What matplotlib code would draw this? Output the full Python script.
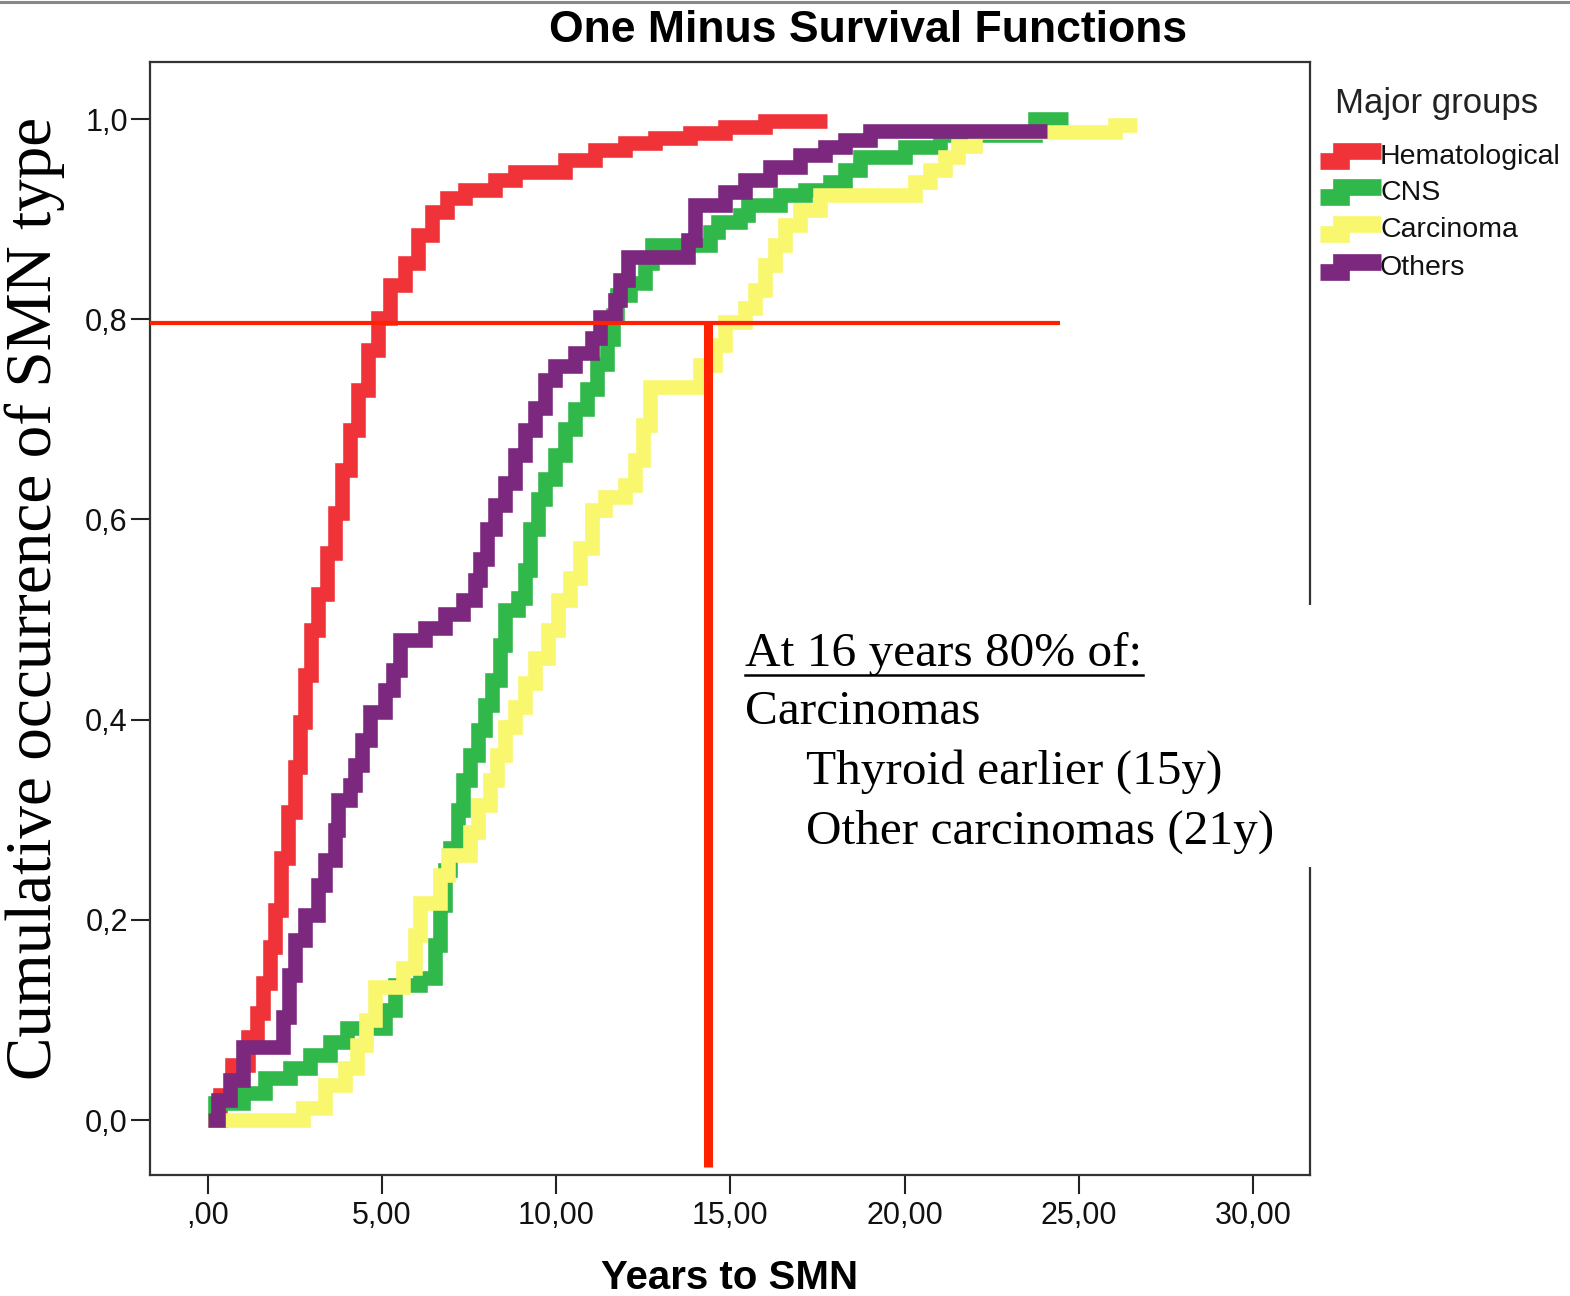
import matplotlib
matplotlib.use("Agg")
import matplotlib.pyplot as plt
from matplotlib.lines import Line2D
from matplotlib.patches import Rectangle

# Kaplan-Meier style cumulative curves (time in years, cumulative occurrence)
HEM_T = [0.0, 0.34, 0.69, 1.15, 1.41, 1.58, 1.78, 1.92, 2.10, 2.30, 2.50, 2.64, 2.79, 2.96,
         3.16, 3.42, 3.65, 3.85, 4.08, 4.31, 4.59, 4.88, 5.23, 5.66, 6.03, 6.43, 6.86, 7.38,
         8.24, 8.81, 10.25, 11.11, 11.97, 12.83, 13.84, 14.84, 15.99, 17.77]
HEM_Y = [0.0, 0.025, 0.055, 0.083, 0.107, 0.137, 0.173, 0.21, 0.262, 0.308, 0.353, 0.398, 0.445, 0.49,
         0.526, 0.566, 0.606, 0.649, 0.689, 0.729, 0.769, 0.801, 0.834, 0.856, 0.884, 0.907, 0.921, 0.929,
         0.939, 0.947, 0.959, 0.969, 0.976, 0.981, 0.986, 0.992, 0.998, 0.998]

CNS_T = [0.0, 0.20, 1.0, 1.64, 2.35, 2.93, 3.50, 3.99, 5.08, 5.37, 6.09, 6.52, 6.66, 6.80, 6.95,
         7.18, 7.32, 7.52, 7.75, 7.95, 8.15, 8.38, 8.53, 8.90, 9.10, 9.24, 9.47, 9.68, 9.96,
         10.25, 10.54, 10.88, 11.17, 11.46, 11.63, 11.74, 12.12, 12.55, 12.75, 14.41, 14.64,
         15.27, 15.50, 16.42, 17.14, 17.86, 18.29, 18.72, 20.01, 21.02, 23.74, 24.69]
CNS_Y = [0.0, 0.017, 0.027, 0.042, 0.052, 0.065, 0.078, 0.092, 0.11, 0.135, 0.142, 0.175, 0.215, 0.25, 0.272,
         0.31, 0.34, 0.365, 0.39, 0.415, 0.44, 0.475, 0.51, 0.522, 0.55, 0.59, 0.62, 0.64, 0.664,
         0.69, 0.71, 0.73, 0.755, 0.78, 0.804, 0.824, 0.836, 0.856, 0.874, 0.887, 0.897,
         0.904, 0.914, 0.924, 0.929, 0.937, 0.949, 0.962, 0.972, 0.984, 1.0, 1.0]

CAR_T = [0.0, 2.73, 3.36, 3.93, 4.28, 4.54, 4.79, 5.60, 5.94, 6.09, 6.66, 6.89, 7.52, 7.75, 8.10,
         8.30, 8.53, 8.81, 9.10, 9.39, 9.76, 10.05, 10.39, 10.68, 11.02, 11.40, 11.97, 12.26, 12.49,
         12.69, 14.13, 14.56, 14.84, 15.42, 15.70, 15.99, 16.28, 16.57, 17.0, 17.57, 20.30, 20.73,
         21.16, 21.53, 22.02, 26.04, 26.67]
CAR_Y = [0.0, 0.012, 0.035, 0.052, 0.075, 0.10, 0.133, 0.152, 0.185, 0.217, 0.245, 0.265, 0.288, 0.315, 0.34,
         0.365, 0.393, 0.413, 0.437, 0.462, 0.49, 0.52, 0.542, 0.571, 0.609, 0.622, 0.634, 0.659, 0.694,
         0.732, 0.754, 0.774, 0.797, 0.811, 0.829, 0.854, 0.874, 0.894, 0.909, 0.924, 0.937, 0.949,
         0.962, 0.973, 0.987, 0.994, 0.994]

OTH_T = [0.0, 0.29, 0.63, 1.0, 2.15, 2.33, 2.50, 2.78, 3.16, 3.36, 3.65, 3.73, 4.08, 4.22, 4.42, 4.65,
         5.08, 5.31, 5.51, 6.23, 6.80, 7.32, 7.67, 7.81, 8.01, 8.24, 8.53, 8.81, 9.10, 9.39, 9.68,
         9.96, 10.54, 11.02, 11.25, 11.69, 11.83, 12.06, 13.78, 13.98, 14.84, 15.42, 16.14, 17.0,
         17.71, 18.29, 19.01, 24.09]
OTH_Y = [0.0, 0.02, 0.04, 0.073, 0.103, 0.145, 0.18, 0.205, 0.235, 0.26, 0.29, 0.32, 0.335, 0.355, 0.38, 0.408,
         0.43, 0.45, 0.48, 0.492, 0.506, 0.52, 0.54, 0.56, 0.59, 0.614, 0.636, 0.664, 0.689, 0.711, 0.739,
         0.753, 0.766, 0.781, 0.802, 0.819, 0.839, 0.862, 0.879, 0.914, 0.927, 0.939, 0.952, 0.964,
         0.972, 0.979, 0.988, 0.988]

GROUPS = ["Hematological", "CNS", "Carcinoma", "Others"]
COLORS = ["#EF3339", "#31B84A", "#F9F76E", "#7C287E"]

X_TICKS = [0, 5, 10, 15, 20, 25, 30]
X_TICKLABELS = [",00", "5,00", "10,00", "15,00", "20,00", "25,00", "30,00"]
Y_TICKS = [0.0, 0.2, 0.4, 0.6, 0.8, 1.0]
Y_TICKLABELS = ["0,0", "0,2", "0,4", "0,6", "0,8", "1,0"]

# annotation cross-hair (80% at ~14.4 years)
ANNOT_Y = 0.796
ANNOT_X = 14.36
ANNOT_XEND = 24.46
ANNOT_YEND = -0.047

SANS = "Liberation Sans"
SERIF = "Liberation Serif"

W, H = 1570, 1296
fig = plt.figure(figsize=(W / 100, H / 100), dpi=100)
fig.patch.set_facecolor("white")

ax = fig.add_axes([150 / W, 1 - 1175 / H, 1160 / W, 1113 / H])
ax.set_xlim(-1.665, 31.64)
ax.set_ylim(-0.0549, 1.057)

series = [(HEM_T, HEM_Y), (CNS_T, CNS_Y), (CAR_T, CAR_Y), (OTH_T, OTH_Y)]
for i, ((t, y), c) in enumerate(zip(series, COLORS)):
    ax.plot(t, y, drawstyle="steps-post", color=c, linewidth=10.5,
            solid_joinstyle="miter", solid_capstyle="butt", zorder=2 + i)

# red guide lines
ax.plot([-1.665, ANNOT_XEND], [ANNOT_Y, ANNOT_Y], color="#FF2200", linewidth=3.0, zorder=10,
        solid_capstyle="butt", clip_on=False)
ax.plot([ANNOT_X, ANNOT_X], [ANNOT_Y, ANNOT_YEND], color="#FF2200", linewidth=6.5, zorder=10,
        solid_capstyle="butt")

for s in ax.spines.values():
    s.set_linewidth(1.6)
    s.set_color("#333333")

ax.set_xticks(X_TICKS)
ax.set_xticklabels(X_TICKLABELS, fontfamily=SANS)
ax.set_yticks(Y_TICKS)
ax.set_yticklabels(Y_TICKLABELS, fontfamily=SANS)
ax.tick_params(axis="both", direction="out", length=14, width=1.5, color="#222222",
               labelsize=22, labelcolor="#111111")
ax.tick_params(axis="x", pad=5)
ax.tick_params(axis="y", pad=2)

ax.set_xlabel("Years to SMN", fontfamily=SANS, fontsize=29, fontweight="bold", labelpad=20)

fig.text(868 / W, 1 - 30 / H, "One Minus Survival Functions", fontfamily=SANS, fontsize=32,
         fontweight="bold", ha="center", va="center")
fig.text(35 / W, 1 - 598 / H, "Cumulative occurrence of SMN type", fontfamily=SERIF,
         fontsize=47, rotation=90, ha="center", va="center")

# top border line of the original slide
fig.add_artist(Line2D([0, 1], [1 - 1.5 / H, 1 - 1.5 / H], color="#888888", linewidth=2.2))

# legend drawn by hand (step-shaped handles)
fig.text(1335 / W, 1 - 103 / H, "Major groups", fontfamily=SANS, fontsize=25,
         ha="left", va="center", color="#222222")
leg_y = [157, 193, 230, 268]
for name, c, py in zip(GROUPS, COLORS, leg_y):
    fy0 = 1 - (py + 4) / H
    fy1 = 1 - (py - 6) / H
    fig.add_artist(Line2D([1320 / W, 1341 / W, 1341 / W, 1381 / W], [fy0, fy0, fy1, fy1],
                          color=c, linewidth=12, solid_joinstyle="miter", solid_capstyle="butt"))
    fig.text(1380 / W, 1 - py / H, name, fontfamily=SANS, fontsize=20.5, ha="left", va="center",
             color="#111111")

# white text box over the plot
fig.add_artist(Rectangle((735 / W, 1 - 867 / H), 581 / W, 262 / H, facecolor="white",
                         edgecolor="none", zorder=20, transform=fig.transFigure))
txt_kw = dict(fontfamily=SERIF, fontsize=35.5, ha="left", va="center", zorder=21, color="black")
fig.text(745 / W, 1 - 654 / H, "At 16 years 80% of:", **txt_kw)
fig.add_artist(Line2D([745 / W, 1143 / W], [1 - 675 / H, 1 - 675 / H], color="black",
                      linewidth=1.8, zorder=21))
fig.text(745 / W, 1 - 712 / H, "Carcinomas", **txt_kw)
fig.text(806 / W, 1 - 772 / H, "Thyroid earlier (15y)", **txt_kw)
fig.text(806 / W, 1 - 832 / H, "Other carcinomas (21y)", **txt_kw)

fig.savefig("out.png", dpi=100)
